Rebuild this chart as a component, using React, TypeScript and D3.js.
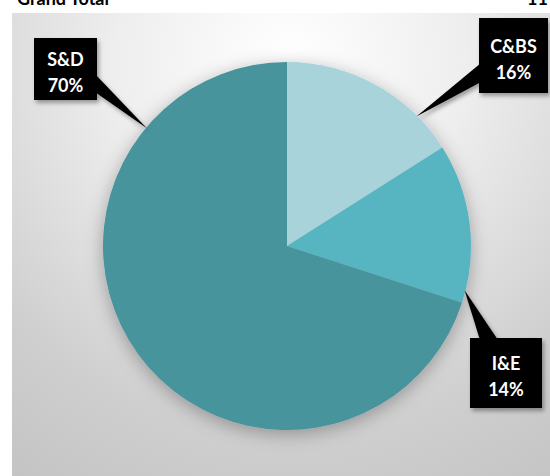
import * as d3 from "d3";
import { useEffect, useRef } from "react";

interface ISlice {
  name: string;
  value: number;
}

// data
const categories = ["C&BS", "I&E", "S&D"];
const shares = [16, 14, 70];
const colors = ["#a9d3da", "#56b5c1", "#46949d"];

// callout layout: angle (deg, clockwise from 12 o'clock) where the pointer touches the pie,
// box position/size and the side the pointer leaves from
const calloutAngle = [45, 104, 310];
const calloutBox = [
  { x: 479, y: 18, w: 69, h: 75, side: "left" },
  { x: 470, y: 338, w: 72, h: 70, side: "top" },
  { x: 34, y: 38, w: 63, h: 62, side: "right" },
];

const W = 550;
const H = 476;
const FONT = "Lato, 'Open Sans', sans-serif";

export default function App() {
  const ref = useRef<SVGSVGElement>(null);

  const render = () => {
    const data: ISlice[] = categories.map((name, i) => ({ name, value: shares[i] }));
    const cx = 287;
    const cy = 246;
    const radius = 184;

    const svg = d3.select(ref.current);
    svg.selectAll("*").remove();
    svg.attr("width", W).attr("height", H).attr("viewBox", [0, 0, W, H]);

    const defs = svg.append("defs");
    const grad = defs
      .append("radialGradient")
      .attr("id", "bg")
      .attr("gradientUnits", "userSpaceOnUse")
      .attr("cx", 290)
      .attr("cy", 60)
      .attr("r", 500);
    grad.append("stop").attr("offset", 0).attr("stop-color", "#ffffff");
    grad.append("stop").attr("offset", 0.35).attr("stop-color", "#eeeeee");
    grad.append("stop").attr("offset", 0.75).attr("stop-color", "#cfcfcf");
    grad.append("stop").attr("offset", 1).attr("stop-color", "#c4c4c4");

    defs
      .append("filter")
      .attr("id", "pieShadow")
      .attr("x", "-20%")
      .attr("y", "-20%")
      .attr("width", "140%")
      .attr("height", "140%")
      .append("feDropShadow")
      .attr("dx", 0)
      .attr("dy", 4)
      .attr("stdDeviation", 9)
      .attr("flood-color", "#000")
      .attr("flood-opacity", 0.3);

    defs
      .append("filter")
      .attr("id", "boxShadow")
      .attr("x", "-30%")
      .attr("y", "-30%")
      .attr("width", "160%")
      .attr("height", "160%")
      .append("feDropShadow")
      .attr("dx", 2)
      .attr("dy", 3)
      .attr("stdDeviation", 2)
      .attr("flood-color", "#000")
      .attr("flood-opacity", 0.35);

    // page strip and chart area
    svg.append("rect").attr("width", W).attr("height", H).attr("fill", "#fff");
    svg
      .append("rect")
      .attr("x", 12)
      .attr("y", 13)
      .attr("width", W - 12)
      .attr("height", H - 13)
      .attr("fill", "url(#bg)");

    // header row of the sheet, cut off at the top like in the screenshot
    svg
      .append("text")
      .attr("x", 17)
      .attr("y", 5)
      .attr("font-family", FONT)
      .attr("font-weight", "bold")
      .attr("font-size", 18)
      .attr("fill", "#000")
      .text("Grand Total");
    svg
      .append("text")
      .attr("x", 527)
      .attr("y", 5)
      .attr("font-family", FONT)
      .attr("font-weight", "bold")
      .attr("font-size", 18)
      .attr("fill", "#000")
      .text("11");

    const pie = d3
      .pie<ISlice>()
      .sort(null)
      .value((d) => d.value);
    const arc = d3.arc<d3.PieArcDatum<ISlice>>().innerRadius(0).outerRadius(radius);
    const arcs = pie(data);
    const color = d3.scaleOrdinal<string, string>().domain(categories).range(colors);

    const g = svg.append("g").attr("transform", `translate(${cx},${cy})`);
    g.append("g")
      .attr("filter", "url(#pieShadow)")
      .selectAll()
      .data(arcs)
      .join("path")
      .attr("fill", (d) => color(d.data.name))
      .attr("d", arc);

    // callouts
    const total = d3.sum(shares);
    const labels = svg.append("g");
    data.forEach((d, i) => {
      const [tx, ty] = d3.pointRadial((calloutAngle[i] * Math.PI) / 180, radius - 1);
      const tip: [number, number] = [cx + tx, cy + ty];
      const b = calloutBox[i];
      let base: [number, number][];
      if (b.side === "left") base = [[b.x + 2, b.y + 45], [b.x + 2, b.y + 64]];
      else if (b.side === "top") base = [[b.x + 10, b.y + 2], [b.x + 28, b.y + 2]];
      else base = [[b.x + b.w - 2, b.y + 36], [b.x + b.w - 2, b.y + 54]];

      const cg = labels.append("g").attr("filter", "url(#boxShadow)");
      cg.append("path")
        .attr("d", d3.line()([base[0], tip, base[1]]) + "Z")
        .attr("fill", "#000");
      cg.append("rect")
        .attr("x", b.x)
        .attr("y", b.y)
        .attr("width", b.w)
        .attr("height", b.h)
        .attr("fill", "#000");

      const mid = b.y + b.h / 2;
      const t = labels
        .append("text")
        .attr("text-anchor", "middle")
        .attr("font-family", FONT)
        .attr("font-weight", "bold")
        .attr("font-size", 18)
        .attr("fill", "#fff");
      t.append("tspan")
        .attr("x", b.x + b.w / 2)
        .attr("y", mid - 3)
        .text(d.name);
      t.append("tspan")
        .attr("x", b.x + b.w / 2)
        .attr("y", mid + 23)
        .text(`${Math.round((d.value / total) * 100)}%`);
    });
  };

  // eslint-disable-next-line react-hooks/exhaustive-deps
  useEffect(() => {
    render();
  }, []);

  return (
    <div style={{ position: "fixed", left: 0, top: 0 }}>
      <svg ref={ref} style={{ display: "block" }}></svg>
    </div>
  );
}
